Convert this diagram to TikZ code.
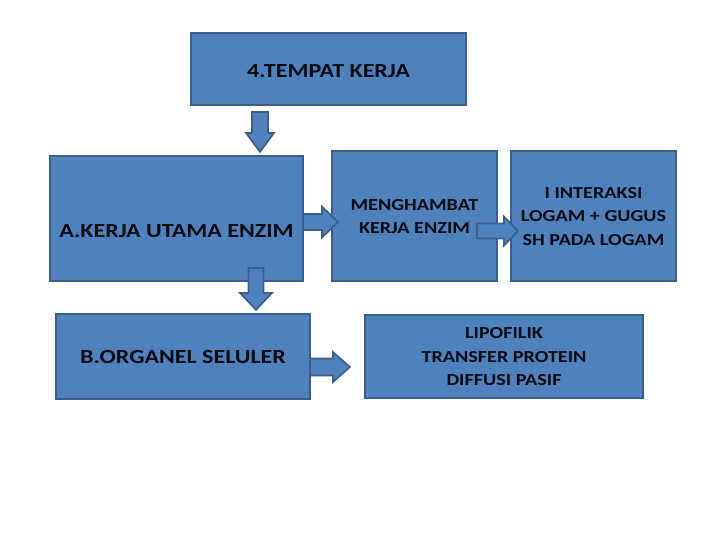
\documentclass[tikz,border=0pt]{standalone}
\usepackage{fontspec}
\setmainfont[FakeStretch=1.2]{Carlito}
\definecolor{boxfill}{HTML}{4F81BD}
\definecolor{boxline}{HTML}{3A5F8E}
\definecolor{txt}{HTML}{0B0B14}
\newcommand{\myharrow}[6]{% x1, x2(head start), x3(tip), yc, shaft half, head half
  \draw[arrowst] (#1,#4-#5) -- (#2,#4-#5) -- (#2,#4-#6) -- (#3,#4) -- (#2,#4+#6) -- (#2,#4+#5) -- (#1,#4+#5) -- cycle;}
\newcommand{\myvarrow}[6]{% y1, y2(head start), y3(tip), xc, shaft half, head half
  \draw[arrowst] (#4-#5,#1) -- (#4-#5,#2) -- (#4-#6,#2) -- (#4,#3) -- (#4+#6,#2) -- (#4+#5,#2) -- (#4+#5,#1) -- cycle;}
\begin{document}
\begin{tikzpicture}[x=1pt,y=-1pt,
  box/.style={draw=boxline, fill=boxfill, line width=2pt, inner sep=0pt},
  lbl/.style={text=txt, font=\bfseries\fontsize{20}{23}\selectfont, align=center, inner sep=0pt},
  slbl/.style={lbl, font=\bfseries\fontsize{16.8}{23.5}\selectfont},
  arrowst/.style={draw=boxline, fill=boxfill, line width=1.6pt, line join=miter}]
\useasboundingbox (0,0) rectangle (720,540);
\fill[white] (0,0) rectangle (720,540);
\node[box, minimum width=275pt, minimum height=72pt] (top) at (328.5,69) {};
\node[lbl] (toplbl) at (328.5,71.5) {4.TEMPAT KERJA};
\node[box, minimum width=253pt, minimum height=125pt] (a) at (176.5,218.5) {};
\node[lbl] (albl) at (176.5,231) {A.KERJA UTAMA ENZIM};
\node[box, minimum width=165pt, minimum height=130pt] (m) at (414.5,216) {};
\node[slbl] (mlbl) at (414.5,216.5) {MENGHAMBAT\\KERJA ENZIM};
\node[box, minimum width=165pt, minimum height=130pt] (i) at (593.5,216) {};
\node[slbl] (ilbl) at (593.5,216.5) {I INTERAKSI\\LOGAM + GUGUS\\SH PADA LOGAM};
\node[box, minimum width=254pt, minimum height=85pt] (b) at (183,356.5) {};
\node[lbl] (blbl) at (183,357.5) {B.ORGANEL SELULER};
\node[box, minimum width=278pt, minimum height=83pt] (l) at (504,356.5) {};
\node[slbl] (llbl) at (504,357) {LIPOFILIK\\TRANSFER PROTEIN\\DIFFUSI PASIF};
\myvarrow{112}{133}{152}{260}{8}{14}
\myvarrow{268}{293}{310}{256}{7.5}{16}
\myharrow{303}{322}{338}{222}{8}{15.5}
\myharrow{477}{504}{518}{231}{7.5}{14.5}
\myharrow{310}{333}{350}{367}{8.5}{15}
\end{tikzpicture}
\end{document}
